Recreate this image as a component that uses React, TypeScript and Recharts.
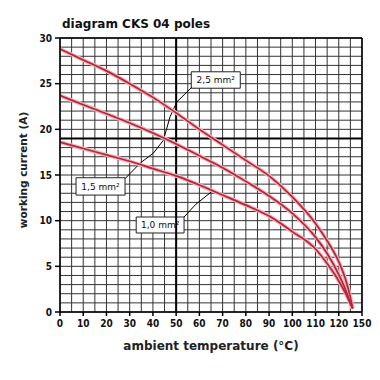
import React from 'react';
import { LineChart, Line, XAxis, YAxis, CartesianGrid, ReferenceLine, ReferenceArea } from 'recharts';

// ambient temperature (°C)
const temps = [0, 10, 20, 30, 40, 50, 60, 70, 80, 90, 100, 110, 115, 120, 123, 125, 126];
// working current (A) per cross section
const current25 = [28.8, 27.6, 26.4, 25.0, 23.5, 21.8, 20.0, 18.3, 16.6, 14.9, 12.6, 9.7, 7.8, 5.5, 3.5, 1.6, 0.4];
const current15 = [23.7, 22.7, 21.7, 20.7, 19.6, 18.4, 17.1, 15.8, 14.3, 12.7, 10.8, 8.2, 6.4, 4.1, 2.4, 1.0, 0.4];
const current10 = [18.6, 17.9, 17.2, 16.5, 15.7, 14.9, 13.9, 12.8, 11.7, 10.5, 8.8, 6.9, 5.3, 3.4, 2.0, 0.9, 0.4];

const xTicks = [0, 10, 20, 30, 40, 50, 60, 70, 80, 90, 100, 110, 120, 130];
const xTickLabels = ['0', '10', '20', '30', '40', '50', '60', '70', '80', '90', '100', '110', '120', '150'];
const yTicks = [0, 5, 10, 15, 20, 25, 30];

const seriesNames = ['2,5 mm²', '1,5 mm²', '1,0 mm²'];

const data = temps.map((t, i) => ({
  t,
  a25: current25[i],
  a15: current15[i],
  a10: current10[i],
}));

// grid every 5 °C and every 1 A
const gridX = Array.from({ length: 27 }, (_, i) => i * 5);
const gridY = Array.from({ length: 31 }, (_, i) => i);

// annotation boxes and leader lines (data coordinates)
const boxes = [
  { x1: 56.5, x2: 77.6, y1: 24.5, y2: 26.3, label: seriesNames[0] },
  { x1: 6.9, x2: 28.0, y1: 12.8, y2: 14.7, label: seriesNames[1] },
  { x1: 32.8, x2: 53.4, y1: 8.65, y2: 10.4, label: seriesNames[2] },
];
const leader1 = [
  { x: 56.7, y: 24.6 },
  { x: 50.3, y: 23.0 },
  { x: 47.4, y: 21.4 },
  { x: 44.5, y: 18.8 },
  { x: 40.2, y: 17.4 },
  { x: 34.5, y: 16.3 },
  { x: 28.0, y: 14.6 },
];
const leader2 = [
  { x: 53.4, y: 10.4 },
  { x: 58.5, y: 11.8 },
  { x: 65.4, y: 13.2 },
];

const tickFont = { fontSize: 10, fontWeight: 'bold', fill: '#111', fontFamily: '"Liberation Sans Narrow", "DejaVu Sans Condensed", sans-serif' };
const RED = '#b3263b';
const HALO = '#f2b3ba';

const App = () => {
  const segs = (pts: { x: number; y: number }[]) =>
    pts.slice(1).map((p, i) => [pts[i], p]);

  return (
    <div style={{ position: 'absolute', left: 0, top: 0, width: 380, height: 380, background: '#fff' }}>
      <LineChart width={380} height={380} data={data} margin={{ top: 38, right: 18, bottom: 38, left: 0 }}>
        <XAxis xAxisId="grid" dataKey="t" type="number" domain={[0, 130]} ticks={gridX} interval={0} hide />
        <YAxis yAxisId="grid" dataKey="a25" type="number" domain={[0, 30]} ticks={gridY} interval={0} allowDataOverflow hide />
        <CartesianGrid xAxisId="grid" yAxisId="grid" stroke="#333" strokeWidth={1} />
        <XAxis
          dataKey="t"
          type="number"
          domain={[0, 130]}
          ticks={xTicks}
          tickFormatter={(v: number) => xTickLabels[xTicks.indexOf(v)]}
          tick={tickFont}
          tickSize={4}
          tickMargin={4}
          height={30}
          stroke="#000"
          strokeWidth={1.5}
          interval={0}
        />
        <YAxis
          type="number"
          domain={[0, 30]}
          ticks={yTicks}
          tick={tickFont}
          tickSize={5}
          tickMargin={3}
          width={60}
          stroke="#000"
          strokeWidth={1.5}
          interval={0}
        />
        <ReferenceLine x={50} stroke="#000" strokeWidth={2} />
        <ReferenceLine y={19} stroke="#000" strokeWidth={2} />
        <ReferenceLine y={30} stroke="#000" strokeWidth={1.5} />
        <ReferenceLine x={130} stroke="#000" strokeWidth={1.5} />
        {segs(leader1).map((s, i) => (
          <ReferenceLine key={'l1' + i} segment={s} stroke="#000" strokeWidth={1} />
        ))}
        {segs(leader2).map((s, i) => (
          <ReferenceLine key={'l2' + i} segment={s} stroke="#000" strokeWidth={1} />
        ))}
        <Line dataKey="a25" type="monotone" stroke={HALO} strokeWidth={4} dot={false} isAnimationActive={false} />
        <Line dataKey="a15" type="monotone" stroke={HALO} strokeWidth={4} dot={false} isAnimationActive={false} />
        <Line dataKey="a10" type="monotone" stroke={HALO} strokeWidth={4} dot={false} isAnimationActive={false} />
        <Line dataKey="a25" name={seriesNames[0]} type="monotone" stroke={RED} strokeWidth={1.7} dot={false} isAnimationActive={false} />
        <Line dataKey="a15" name={seriesNames[1]} type="monotone" stroke={RED} strokeWidth={1.7} dot={false} isAnimationActive={false} />
        <Line dataKey="a10" name={seriesNames[2]} type="monotone" stroke={RED} strokeWidth={1.7} dot={false} isAnimationActive={false} />
        {boxes.map((b) => (
          <ReferenceArea
            key={b.label}
            x1={b.x1}
            x2={b.x2}
            y1={b.y1}
            y2={b.y2}
            fill="#fff"
            fillOpacity={1}
            stroke="#222"
            strokeWidth={1}
            label={{ value: b.label, position: 'center', fill: '#111', fontSize: 9, fontFamily: 'DejaVu Sans' }}
          />
        ))}
      </LineChart>
      <svg width={380} height={380} style={{ position: 'absolute', left: 0, top: 0, pointerEvents: 'none' }}>
        <text x={62} y={28} fontFamily="DejaVu Sans" fontWeight="bold" fontSize={12} fill="#111">
          diagram CKS 04 poles
        </text>
        <text x={211} y={350} textAnchor="middle" fontFamily="DejaVu Sans" fontWeight="bold" fontSize={12} fill="#222">
          ambient temperature (°C)
        </text>
        <text
          x={0}
          y={0}
          transform="translate(27,170) rotate(-90)"
          textAnchor="middle"
          fontFamily="DejaVu Sans"
          fontWeight="bold"
          fontSize={10.5}
          fill="#222"
        >
          working current (A)
        </text>
      </svg>
    </div>
  );
};

export default App;
